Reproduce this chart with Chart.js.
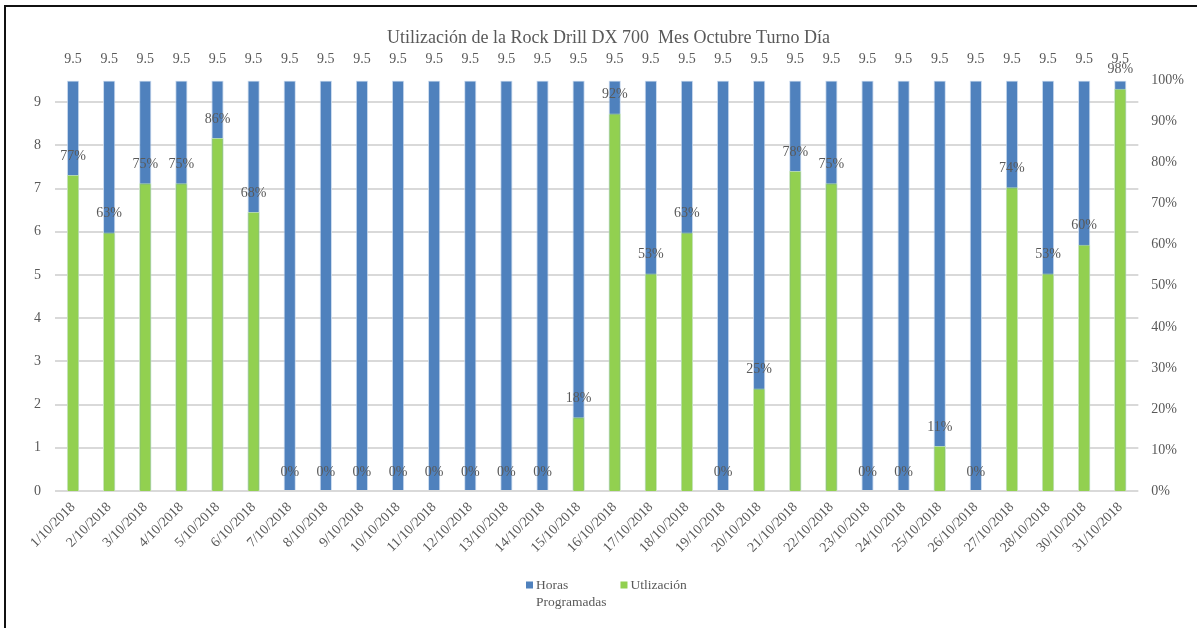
<!DOCTYPE html>
<html lang="es">
<head>
    <meta charset="UTF-8">
    <title>Utilización Rock Drill DX 700</title>
    <style>
        html, body { margin: 0; padding: 0; background: #fff; overflow: hidden; }
        .frame {
            position: absolute; left: 4px; top: 5px;
            width: 1300px; height: 700px;
            border: 2px solid #111;
        }
        .wrap { position: absolute; left: 0; top: 0; width: 1197px; height: 628px; }
    </style>
</head>
<body>
    <div class="frame"></div>
    <div class="wrap">
        <canvas id="myChart" width="1197" height="628"></canvas>
    </div>

    <script src="https://cdn.jsdelivr.net/npm/chart.js@4.4.1/dist/chart.umd.min.js"></script>
    <script>
        // fechas del mes (no hay registro del 29)
        var dias = [
            '1/10/2018', '2/10/2018', '3/10/2018', '4/10/2018', '5/10/2018', '6/10/2018',
            '7/10/2018', '8/10/2018', '9/10/2018', '10/10/2018', '11/10/2018', '12/10/2018',
            '13/10/2018', '14/10/2018', '15/10/2018', '16/10/2018', '17/10/2018', '18/10/2018',
            '19/10/2018', '20/10/2018', '21/10/2018', '22/10/2018', '23/10/2018', '24/10/2018',
            '25/10/2018', '26/10/2018', '27/10/2018', '28/10/2018', '30/10/2018', '31/10/2018'
        ];
        var horasProgramadas = [
            9.5, 9.5, 9.5, 9.5, 9.5, 9.5, 9.5, 9.5, 9.5, 9.5,
            9.5, 9.5, 9.5, 9.5, 9.5, 9.5, 9.5, 9.5, 9.5, 9.5,
            9.5, 9.5, 9.5, 9.5, 9.5, 9.5, 9.5, 9.5, 9.5, 9.5
        ];
        // utilización en %
        var utilizacion = [
            77, 63, 75, 75, 86, 68, 0, 0, 0, 0,
            0, 0, 0, 0, 18, 92, 53, 63, 0, 25,
            78, 75, 0, 0, 11, 0, 74, 53, 60, 98
        ];
        var horasTicks = [0, 1, 2, 3, 4, 5, 6, 7, 8, 9];
        // texto de leyenda, en líneas
        var leyenda = [['Horas', 'Programadas'], ['Utlización']];

        var gris = '#595959';
        var serif = "'Liberation Serif', 'Times New Roman', serif";

        // etiquetas de valor encima de cada barra
        var etiquetas = {
            id: 'etiquetas',
            afterDatasetsDraw: function (chart) {
                var ctx = chart.ctx;
                ctx.save();
                ctx.font = '14px ' + serif;
                ctx.fillStyle = gris;
                ctx.textAlign = 'center';
                ctx.textBaseline = 'middle';
                chart.data.datasets.forEach(function (ds, i) {
                    var meta = chart.getDatasetMeta(i);
                    meta.data.forEach(function (bar, j) {
                        var v = ds.data[j];
                        var txt = i === 0 ? String(v) : v + '%';
                        var dy = i === 0 ? 21 : 19;
                        ctx.fillText(txt, bar.x, bar.y - dy);
                    });
                });
                ctx.restore();
            }
        };

        // leyenda abajo, con el nombre largo partido en dos líneas
        var leyendaAbajo = {
            id: 'leyendaAbajo',
            afterDraw: function (chart) {
                var ctx = chart.ctx;
                var caja = 7, sep = 3, gap = 14, alto = 17;
                ctx.save();
                ctx.font = '13.5px ' + serif;
                ctx.textBaseline = 'middle';
                ctx.textAlign = 'left';
                var anchos = leyenda.map(function (lineas) {
                    var w = 0;
                    lineas.forEach(function (t) { w = Math.max(w, ctx.measureText(t).width); });
                    return caja + sep + w;
                });
                var total = anchos.reduce(function (a, b) { return a + b; }, 0) + gap * (anchos.length - 1);
                var x = Math.round(chart.width / 2 + 8 - total / 2);
                var y = 585;
                chart.data.datasets.forEach(function (ds, i) {
                    ctx.fillStyle = ds.backgroundColor;
                    ctx.fillRect(x, y - 3.5, caja, caja);
                    ctx.fillStyle = gris;
                    leyenda[i].forEach(function (t, k) {
                        ctx.fillText(t, x + caja + sep, y + k * alto);
                    });
                    x += anchos[i] + gap;
                });
                ctx.restore();
            }
        };

        var ctx = document.getElementById('myChart').getContext('2d');
        var chart = new Chart(ctx, {
            type: 'bar',
            data: {
                labels: dias,
                datasets: [
                    {
                        label: 'Horas Programadas',
                        data: horasProgramadas,
                        backgroundColor: '#4f81bd',
                        borderColor: 'rgba(190, 210, 235, 0.8)',
                        borderWidth: 1,
                        yAxisID: 'y',
                        grouped: false,
                        order: 2
                    },
                    {
                        label: 'Utlización',
                        data: utilizacion,
                        backgroundColor: '#92d050',
                        borderColor: 'rgba(200, 235, 170, 0.8)',
                        borderWidth: 1,
                        yAxisID: 'y1',
                        grouped: false,
                        order: 1
                    }
                ]
            },
            options: {
                responsive: false,
                animation: false,
                categoryPercentage: 1,
                barPercentage: 0.34,
                layout: { padding: { left: 20, right: 0, top: 0, bottom: 72 } },
                plugins: {
                    title: {
                        display: true,
                        text: 'Utilización de la Rock Drill DX 700  Mes Octubre Turno Día',
                        color: gris,
                        font: { family: serif, size: 18, weight: 'normal' },
                        padding: { top: 27, bottom: 32 }
                    },
                    legend: { display: false },
                    tooltip: { enabled: false }
                },
                scales: {
                    x: {
                        grid: { display: false },
                        border: { display: false },
                        ticks: {
                            color: gris,
                            font: { family: serif, size: 14 },
                            minRotation: 45,
                            maxRotation: 45,
                            autoSkip: false,
                            padding: 0
                        }
                    },
                    y: {
                        position: 'left',
                        min: 0,
                        max: 9.5,
                        afterBuildTicks: function (axis) {
                            axis.ticks = horasTicks.map(function (v) { return { value: v }; });
                        },
                        grid: { color: '#d9d9d9', lineWidth: 2, drawTicks: false },
                        border: { display: false },
                        ticks: {
                            color: gris,
                            font: { family: serif, size: 14 },
                            padding: 14
                        }
                    },
                    y1: {
                        position: 'right',
                        min: 0,
                        max: 100,
                        grid: { display: false, drawTicks: false },
                        border: { display: false },
                        ticks: {
                            stepSize: 10,
                            color: gris,
                            font: { family: serif, size: 14 },
                            padding: 13,
                            callback: function (v) { return v + '%'; }
                        }
                    }
                }
            },
            plugins: [etiquetas, leyendaAbajo]
        });
    </script>
</body>
</html>
